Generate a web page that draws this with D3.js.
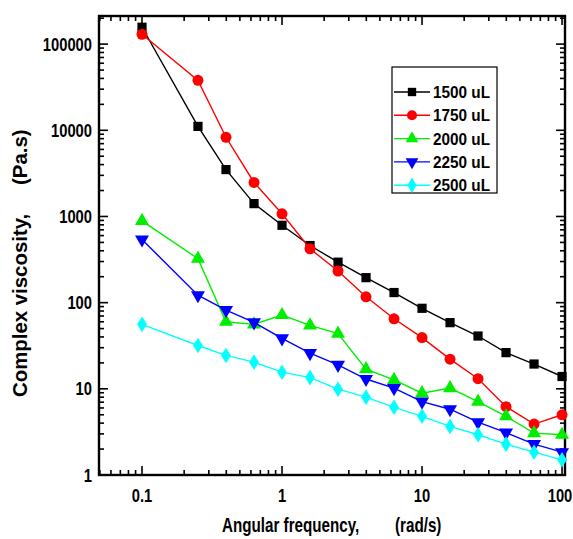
<!DOCTYPE html>
<html>
<head>
<meta charset="utf-8">
<script src="https://cdn.jsdelivr.net/npm/d3@7"></script>
<style>
  body { margin: 0; background: #fff; }
  svg text { font-family: "Liberation Sans", Arial, sans-serif; font-weight: bold; }
</style>
</head>
<body>
<div id="chart"></div>
<script>
// Complex viscosity vs angular frequency
const freq = [0.1, 0.251, 0.398, 0.631, 1, 1.585, 2.512, 3.981, 6.31, 10, 15.85, 25.12, 39.81, 63.1, 100];

const v1500 = [157000, 11100, 3500, 1410, 790, 460, 295, 195, 131, 86, 58.6, 41, 26.3, 19.4, 13.9];
const v1750 = [130000, 38000, 8300, 2480, 1075, 422, 233, 117, 65, 39.3, 22.1, 13.1, 6.2, 3.9, 5.0];
const v2000 = [890, 324, 60, 56, 71.8, 54.5, 43.7, 16.9, 12.7, 8.9, 10.2, 7.1, 4.8, 3.06, 2.93];
const v2250 = [540, 122, 82, 59, 38.5, 26, 19, 13, 10.2, 7.1, 5.8, 4.1, 3.1, 2.28, 1.84];
const v2500 = [56, 31.8, 24.4, 20.4, 15.6, 13.5, 9.9, 8.0, 6.1, 4.8, 3.66, 2.93, 2.28, 1.84, 1.5];

const seriesNames = ["1500 uL", "1750 uL", "2000 uL", "2250 uL", "2500 uL"];
const seriesValues = [v1500, v1750, v2000, v2250, v2500];
const seriesColors = ["#000000", "#ff0000", "#00ee00", "#0000ff", "#00ffff"];
const seriesSymbols = [d3.symbolSquare, d3.symbolCircle, d3.symbolTriangle, d3.symbolTriangle, d3.symbolDiamond];

const xTicks = [0.1, 1, 10, 100];
const xTickLabels = ["0.1", "1", "10", "100"];
const yTicks = [1, 10, 100, 1000, 10000, 100000];
const yTickLabels = ["1", "10", "100", "1000", "10000", "100000"];

const width = 573, height = 539;
const margin = { top: 16, right: 8, bottom: 64, left: 99 };
const w = width - margin.left - margin.right;
const h = height - margin.top - margin.bottom;
const narrow = 0.82; // no narrow font installed, squeeze Liberation Sans instead

const x = d3.scaleLog().domain([0.0493, 105]).range([0, w]);
const y = d3.scaleLog().domain([1, 212000]).range([h, 0]);

const svg = d3.select("#chart").append("svg")
  .attr("width", width).attr("height", height);

const g = svg.append("g").attr("transform", `translate(${margin.left},${margin.top})`);

// minor ticks (2..9 each decade)
const minorX = [];
[0.01, 0.1, 1, 10].forEach(b => { for (let k = 2; k <= 9; k++) { const v = b * k; if (v >= x.domain()[0] && v <= x.domain()[1]) minorX.push(v); } });
const minorY = [];
[1, 10, 100, 1000, 10000, 100000].forEach(b => { for (let k = 2; k <= 9; k++) { const v = b * k; if (v <= y.domain()[1]) minorY.push(v); } });

const axisG = g.append("g").attr("stroke", "#000");
// ticks, pointing inward on all four sides
const tickLine = (x1, y1, x2, y2, sw) => axisG.append("line")
  .attr("x1", x1).attr("y1", y1).attr("x2", x2).attr("y2", y2).attr("stroke-width", sw);

xTicks.forEach(v => { tickLine(x(v), h, x(v), h - 9, 1.6); tickLine(x(v), 0, x(v), 9, 1.6); });
minorX.forEach(v => { tickLine(x(v), h, x(v), h - 5, 1.6); tickLine(x(v), 0, x(v), 5, 1.6); });
yTicks.forEach(v => { tickLine(0, y(v), 9, y(v), 1.6); tickLine(w, y(v), w - 9, y(v), 1.6); });
minorY.forEach(v => { tickLine(0, y(v), 5, y(v), 1.6); tickLine(w, y(v), w - 5, y(v), 1.6); });

// frame
g.append("rect").attr("width", w).attr("height", h)
  .attr("fill", "none").attr("stroke", "#000").attr("stroke-width", 2.4);

// tick labels
g.selectAll(".xlab").data(xTicks).join("text")
  .attr("transform", (d, i) => `translate(${i === xTicks.length - 1 ? Math.min(x(d), w - 5) : x(d)},${h + 27}) scale(${narrow},1)`)
  .attr("text-anchor", "middle").attr("font-size", 18)
  .text((d, i) => xTickLabels[i]);

g.selectAll(".ylab").data(yTicks).join("text")
  .attr("transform", d => `translate(-7,${y(d) + 6.5}) scale(${narrow},1)`)
  .attr("text-anchor", "end").attr("font-size", 18)
  .text((d, i) => yTickLabels[i]);

// series
const line = d3.line().x(d => x(d[0])).y(d => y(d[1]));
seriesValues.forEach((vals, i) => {
  const pts = freq.map((f, j) => [f, vals[j]]);
  const sg = g.append("g");
  sg.append("path").datum(pts).attr("d", line)
    .attr("fill", "none").attr("stroke", seriesColors[i]).attr("stroke-width", 1.4);
  const size = i === 1 ? 95 : (i === 4 ? 70 : 85);
  sg.selectAll("path.m").data(pts).join("path").attr("class", "m")
    .attr("transform", d => `translate(${x(d[0])},${y(d[1])})` + (i === 3 ? " rotate(180)" : "") + (i === 4 ? " scale(1.1,1)" : ""))
    .attr("d", d3.symbol(seriesSymbols[i], size)())
    .attr("fill", seriesColors[i]);
});

// legend
const lg = svg.append("g").attr("transform", "translate(392,67)");
lg.append("rect").attr("width", 105).attr("height", 126)
  .attr("fill", "#fff").attr("stroke", "#000").attr("stroke-width", 1.2);
seriesNames.forEach((name, i) => {
  const ly = 25 + i * 23.3;
  lg.append("line").attr("x1", 2).attr("x2", 38).attr("y1", ly).attr("y2", ly)
    .attr("stroke", seriesColors[i]).attr("stroke-width", 1.4);
  const size = i === 1 ? 80 : 70;
  lg.append("path")
    .attr("transform", `translate(20,${ly})` + (i === 3 ? " rotate(180)" : ""))
    .attr("d", d3.symbol(seriesSymbols[i], size)())
    .attr("fill", seriesColors[i]);
  lg.append("text")
    .attr("transform", `translate(41,${ly + 6}) scale(0.93,1)`)
    .attr("font-size", 16.5)
    .text(name);
});

// axis titles
const xTitle = svg.append("text")
  .attr("transform", "translate(222,532) scale(0.78,1)")
  .attr("font-size", 19.5);
xTitle.append("tspan").attr("x", 0).text("Angular frequency,");
xTitle.append("tspan").attr("x", (395 - 222) / 0.78).text("(rad/s)");

const yTitle = svg.append("text")
  .attr("transform", "translate(27,397) rotate(-90)")
  .attr("font-size", 20.4);
yTitle.append("tspan").attr("x", 0).text("Complex viscosity,");
yTitle.append("tspan").attr("x", 397 - 185).text("(Pa.s)");
</script>
</body>
</html>
